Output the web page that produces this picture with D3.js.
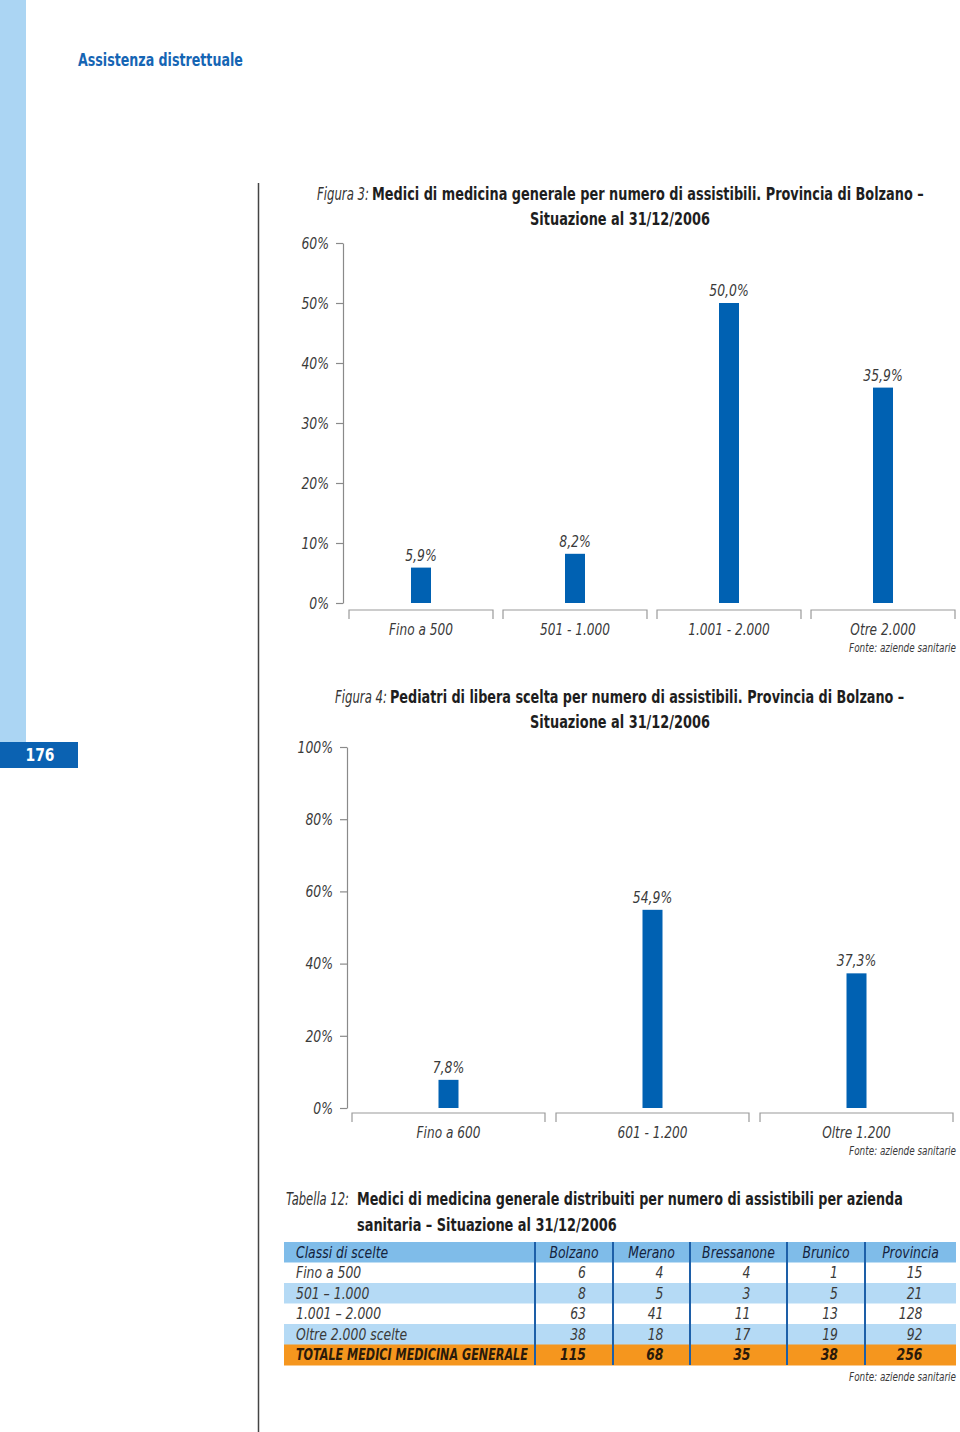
<!DOCTYPE html>
<meta charset="utf-8">
<style>
body { margin: 0; background: #fff; }
svg text { font-family: "DejaVu Sans Condensed", "Liberation Sans", sans-serif; }
.tick text, .val, .cat, .fonte, .cell { font-style: italic; fill: #3a3a3a; }
.axis path, .axis line { stroke: #8a8a8a; stroke-width: 1.2; }
.bracket { fill: none; stroke: #9a9a9a; stroke-width: 1.2; }
.ttl { font-weight: bold; fill: #1e1e1e; }
.ttl-lead { font-style: italic; font-weight: normal; fill: #333; }
</style>
<body>
<script src="https://d3js.org/d3.v7.min.js" charset="utf-8"></script>
<script>

// Figura 3 - medici di medicina generale
var fig3Categories = ["Fino a 500", "501 - 1.000", "1.001 - 2.000", "Otre 2.000"];
var fig3Values = [5.9, 8.2, 50.0, 35.9];
var fig3Ticks = [0, 10, 20, 30, 40, 50, 60];

// Figura 4 - pediatri
var fig4Categories = ["Fino a 600", "601 - 1.200", "Oltre 1.200"];
var fig4Values = [7.8, 54.9, 37.3];
var fig4Ticks = [0, 20, 40, 60, 80, 100];

// Tabella 12
var tableHeader = ["Classi di scelte", "Bolzano", "Merano", "Bressanone", "Brunico", "Provincia"];
var tableRowLabels = ["Fino a 500", "501 \u2013 1.000", "1.001 \u2013 2.000", "Oltre 2.000 scelte", "TOTALE MEDICI MEDICINA GENERALE"];
var tableValues = [
  [6, 4, 4, 1, 15],
  [8, 5, 3, 5, 21],
  [63, 41, 11, 13, 128],
  [38, 18, 17, 19, 92],
  [115, 68, 35, 38, 256]
];

var width = 960, height = 1432;
var barBlue = "#0061b2";

var svg = d3.select("body").append("svg")
    .attr("width", width)
    .attr("height", height);

// the original is set in a condensed face: scale text horizontally around its anchor
function scaleX(node, k) {
  var ax = +(node.getAttribute("x") || 0);
  d3.select(node).attr("transform",
    "translate(" + ax + ",0) scale(" + k + ",1) translate(" + (-ax) + ",0)");
}
function fit(sel, w) {
  sel.each(function() { scaleX(this, w / this.getComputedTextLength()); });
  return sel;
}
function squeeze(sel, k) {
  sel.each(function() { scaleX(this, k); });
  return sel;
}

// page decoration
svg.append("rect").attr("x", 0).attr("y", 0).attr("width", 26).attr("height", 742).attr("fill", "#abd5f3");
svg.append("rect").attr("x", 0).attr("y", 742).attr("width", 78).attr("height", 26).attr("fill", "#0b62b2");
svg.append("text").attr("x", 40).attr("y", 761).attr("text-anchor", "middle")
    .style("font-weight", "bold").style("font-size", "17px").attr("fill", "#fff").text("176")
    .call(fit, 29);
svg.append("text").attr("x", 78).attr("y", 66)
    .style("font-weight", "bold").style("font-size", "17.5px").attr("fill", "#1565b4")
    .text("Assistenza distrettuale")
    .call(fit, 165);
svg.append("line").attr("x1", 258.5).attr("x2", 258.5).attr("y1", 183).attr("y2", height)
    .attr("stroke", "#444").attr("stroke-width", 1.5);

function title(lead, line1, line2, y, x0, leadW, x1, w1) {
  svg.append("text").attr("class", "ttl-lead").attr("x", x0).attr("y", y)
      .style("font-size", "17px").text(lead).call(fit, leadW);
  svg.append("text").attr("class", "ttl").attr("x", x1).attr("y", y)
      .style("font-size", "17px").text(line1).call(fit, w1);
  svg.append("text").attr("class", "ttl").attr("x", 620).attr("y", y + 25)
      .attr("text-anchor", "middle").style("font-size", "17px").text(line2).call(fit, 180);
}

function barChart(cfg) {
  var x = d3.scaleBand().domain(cfg.categories).range(cfg.xRange).paddingInner(cfg.pad);
  var y = d3.scaleLinear().domain([0, cfg.max]).range(cfg.yRange);
  var g = svg.append("g");

  g.append("g").attr("class", "axis")
      .attr("transform", "translate(" + cfg.axisX + ",0)")
      .call(d3.axisLeft(y).tickValues(cfg.ticks).tickSize(7).tickSizeOuter(0).tickPadding(7)
        .tickFormat(d => d + "%"))
      .call(a => a.selectAll("text").style("font-size", "15px").attr("dy", "0.35em").call(squeeze, 0.92));

  var data = cfg.categories.map((c, i) => ({ cat: c, v: cfg.values[i] }));

  g.selectAll("rect.bar").data(data).enter().append("rect")
      .attr("class", "bar")
      .attr("x", d => x(d.cat) + x.bandwidth() / 2 - 10)
      .attr("width", 20)
      .attr("y", d => y(d.v))
      .attr("height", d => y(0) - y(d.v))
      .attr("fill", barBlue);

  g.selectAll("text.val").data(data).enter().append("text")
      .attr("class", "val")
      .attr("x", d => x(d.cat) + x.bandwidth() / 2)
      .attr("y", d => y(d.v) - 7)
      .attr("text-anchor", "middle").style("font-size", "15px")
      .text(d => d3.format(".1f")(d.v).replace(".", ",") + "%")
      .call(squeeze, 0.92);

  var by = y(0) + cfg.bracketGap;
  g.selectAll("path.bracket").data(data).enter().append("path")
      .attr("class", "bracket")
      .attr("d", d => {
        var x0 = x(d.cat), x1 = x(d.cat) + x.bandwidth();
        return "M" + x0 + "," + (by + 9) + "V" + by + "H" + x1 + "V" + (by + 9);
      });

  g.selectAll("text.cat").data(data).enter().append("text")
      .attr("class", "cat")
      .attr("x", d => x(d.cat) + x.bandwidth() / 2)
      .attr("y", by + 25)
      .attr("text-anchor", "middle").style("font-size", "15px")
      .text(d => d.cat)
      .call(squeeze, 0.9);

  svg.append("text").attr("class", "fonte").attr("x", 956).attr("y", by + 42)
      .attr("text-anchor", "end").style("font-size", "12px").text("Fonte: aziende sanitarie")
      .call(fit, 107);
}

title("Figura 3:", "Medici di medicina generale per numero di assistibili. Provincia di Bolzano \u2013",
      "Situazione al 31/12/2006", 200, 317, 52, 372, 552);
barChart({
  categories: fig3Categories, values: fig3Values, ticks: fig3Ticks, max: 60,
  xRange: [349, 955], pad: 0.065, yRange: [603, 243], axisX: 343, bracketGap: 7
});

title("Figura 4:", "Pediatri di libera scelta per numero di assistibili. Provincia di Bolzano \u2013",
      "Situazione al 31/12/2006", 703, 335, 52, 390, 515);
barChart({
  categories: fig4Categories, values: fig4Values, ticks: fig4Ticks, max: 100,
  xRange: [352, 953], pad: 0.054, yRange: [1108, 747], axisX: 347, bracketGap: 5
});

// Tabella 12
svg.append("text").attr("class", "ttl-lead").attr("x", 286).attr("y", 1205)
    .style("font-size", "17px").text("Tabella 12:").call(fit, 63);
svg.append("text").attr("class", "ttl").attr("x", 357).attr("y", 1205).style("font-size", "17px")
    .text("Medici di medicina generale distribuiti per numero di assistibili per azienda")
    .call(fit, 546);
svg.append("text").attr("class", "ttl").attr("x", 357).attr("y", 1231).style("font-size", "17px")
    .text("sanitaria \u2013 Situazione al 31/12/2006")
    .call(fit, 260);

var colEdges = [284, 535, 613, 690, 787, 865, 956];
var rowY = d3.scaleBand().domain(d3.range(tableRowLabels.length + 1)).range([1242, 1365]);
var rowFill = ["#7fbce9", "#ffffff", "#b5daf5", "#ffffff", "#b5daf5", "#f5961e"];

var rows = [tableHeader].concat(tableRowLabels.map((l, i) => [l].concat(tableValues[i])));

var tg = svg.append("g");
tg.selectAll("rect").data(rows).enter().append("rect")
    .attr("x", colEdges[0]).attr("width", colEdges[6] - colEdges[0])
    .attr("y", (d, i) => rowY(i)).attr("height", rowY.bandwidth() + 0.5)
    .attr("fill", (d, i) => rowFill[i]);

var rowG = tg.selectAll("g.row").data(rows).enter().append("g")
    .attr("class", "row")
    .attr("transform", (d, i) => "translate(0," + (rowY(i) + rowY.bandwidth() / 2) + ")");

rowG.selectAll("text").data((d, i) => d.map(v => ({ v: v, r: i }))).enter().append("text")
    .attr("class", "cell")
    .attr("dy", "0.36em")
    .attr("x", (d, j) => {
      if (j === 0) return colEdges[0] + 12;
      var mid = (colEdges[j] + colEdges[j + 1]) / 2;
      return d.r === 0 ? mid : mid + 12;
    })
    .attr("text-anchor", (d, j) => j === 0 ? "start" : (d.r === 0 ? "middle" : "end"))
    .style("font-size", "15px")
    .style("font-weight", d => d.r === 5 ? "bold" : "normal")
    .style("fill", d => d.r === 0 ? "#14233d" : (d.r === 5 ? "#2a1a0a" : "#3a3a3a"))
    .text(d => d.v)
    .call(squeeze, 0.92);

// the long total label has to fit its column
rowG.filter((d, i) => i === 5).select("text").call(fit, 232);

tg.selectAll("line.sep").data(colEdges.slice(1, 6)).enter().append("line")
    .attr("class", "sep")
    .attr("x1", d => d).attr("x2", d => d)
    .attr("y1", 1242).attr("y2", 1365)
    .attr("stroke", "#1d5fa8").attr("stroke-width", 2);

svg.append("text").attr("class", "fonte").attr("x", 956).attr("y", 1381)
    .attr("text-anchor", "end").style("font-size", "12px").text("Fonte: aziende sanitarie")
    .call(fit, 107);

</script>
</body>
